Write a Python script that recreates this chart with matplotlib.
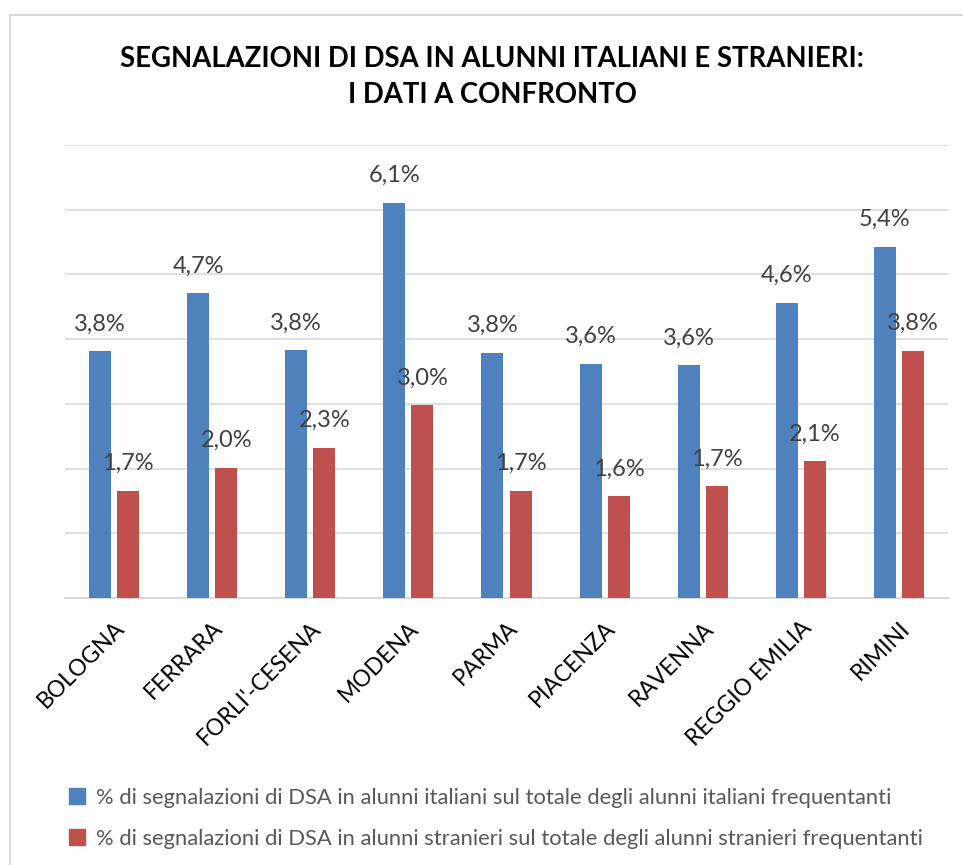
import numpy as np
import matplotlib
matplotlib.use('Agg')
import matplotlib.pyplot as plt
from matplotlib.patches import Rectangle, Patch

plt.rcParams['font.family'] = ['Lato', 'DejaVu Sans']

# data
province = ['BOLOGNA', 'FERRARA', "FORLI'-CESENA", 'MODENA', 'PARMA',
            'PIACENZA', 'RAVENNA', 'REGGIO EMILIA', 'RIMINI']
italiani = [3.81, 4.71, 3.83, 6.11, 3.79, 3.62, 3.60, 4.56, 5.43]
stranieri = [1.66, 2.01, 2.32, 2.98, 1.66, 1.57, 1.73, 2.11, 3.82]
serie = ['% di segnalazioni di DSA in alunni italiani sul totale degli alunni italiani frequentanti',
         '% di segnalazioni di DSA in alunni stranieri sul totale degli alunni stranieri frequentanti']
titolo = 'SEGNALAZIONI DI DSA IN ALUNNI ITALIANI E STRANIERI:\nI DATI A CONFRONTO'

BLU = '#4F81BD'
ROSSO = '#C0504D'
W, H = 963, 865

fig = plt.figure(figsize=(W / 100, H / 100), dpi=100)
ax = fig.add_axes([65 / W, 1 - 598 / H, (948 - 65) / W, (598 - 145) / H])

# chart border (only left and top edges visible in the reference)
fig.patches.append(Rectangle((9.5 / W, -0.5), 2, 1 - 14.5 / H + 0.5,
                             transform=fig.transFigure, fill=False,
                             edgecolor='#d9d9d9', linewidth=1.5))

x = np.arange(len(province))
bw = 0.224
off = 0.143
b1 = ax.bar(x - off, italiani, bw, color=BLU, zorder=3)
b2 = ax.bar(x + off, stranieri, bw, color=ROSSO, zorder=3)

def fmt(vals):
    return [f'{v:.1f}%'.replace('.', ',') for v in vals]

ax.bar_label(b1, labels=fmt(italiani), padding=12, fontsize=17, color='#404040')
ax.bar_label(b2, labels=fmt(stranieri), padding=12, fontsize=17, color='#404040')

ax.set_xlim(-0.5, len(province) - 0.5)
ax.set_ylim(0, 7)
ax.set_yticks(np.arange(0, 8, 1))
ax.set_yticklabels([])
ax.tick_params(axis='y', length=0)
ax.grid(axis='y', color='#d9d9d9', linewidth=1.2, zorder=0)
ax.set_axisbelow(True)
for s in ['top', 'right', 'left']:
    ax.spines[s].set_visible(False)
ax.spines['bottom'].set_color('#d9d9d9')
ax.spines['bottom'].set_linewidth(1.5)

ax.set_xticks(x)
ax.set_xticklabels(province, rotation=45, ha='right', va='top',
                   rotation_mode='anchor', fontsize=16.5, color='black')
ax.tick_params(axis='x', length=0, pad=14)

fig.text(492 / W, 1 - 77 / H, titolo, ha='center', va='center',
         fontsize=19.8, fontweight='bold', linespacing=1.45)

handles = [Patch(color=BLU), Patch(color=ROSSO)]
fig.legend(handles, serie, loc='upper center', bbox_to_anchor=(496 / W, 1 - 777 / H),
           frameon=False, fontsize=15.8, labelcolor='#595959',
           handlelength=0.75, handleheight=0.75, handletextpad=0.5,
           labelspacing=0.95, borderpad=0)

fig.savefig('out.png', dpi=100, facecolor='white')
